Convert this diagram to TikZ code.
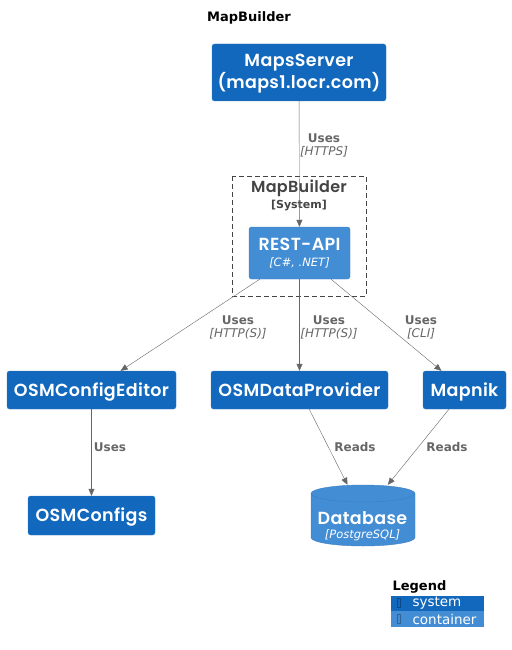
\documentclass[tikz,border=0pt]{standalone}
\usepackage{fontspec}
\setmainfont{DejaVu Sans}
\newfontfamily\boxfont{Poppins}[BoldFont={Poppins SemiBold}, LetterSpace=2]
\usetikzlibrary{arrows.meta}
\definecolor{sysblue}{HTML}{1168BD}
\definecolor{contblue}{HTML}{438DD5}
\definecolor{edgeblue}{HTML}{3C7FC0}
\definecolor{relgray}{HTML}{666666}
\definecolor{bndgray}{HTML}{444444}
\newcommand\techfont{\normalfont\itshape\fontsize{11.5}{13}\selectfont}
\tikzset{
  sysbox/.style={draw=edgeblue, fill=sysblue, rounded corners=2.5pt, text=white,
    font=\boxfont\bfseries\fontsize{17.5}{19}\selectfont, align=center, inner sep=0pt,
    text height=12.2pt, text depth=0pt},
  contbox/.style={sysbox, fill=contblue},
  rel/.style={draw=relgray, -{Triangle[length=7pt,width=6pt]}},
  lbl/.style={text=relgray, align=center, font=\fontsize{12}{13}\selectfont}
}
\begin{document}
\begin{tikzpicture}[x=1pt, y=-1pt]
  \useasboundingbox (0,0) rectangle (511,650);
  \node[font=\bfseries\fontsize{13}{15}\selectfont] (title) at (249,18) {MapBuilder};

  % external system
  \node[sysbox, minimum width=174pt, minimum height=57pt, text height=31.2pt] (maps) at (299,72.5)
    {MapsServer\\(maps1.locr.com)};

  % boundary
  \draw[bndgray, dash pattern=on 5pt off 3pt] (232,176) rectangle (366,296);
  \node[text=bndgray, align=center, font=\boxfont\bfseries\fontsize{16}{16}\selectfont] (bnd) at (299,195)
    {MapBuilder\\[0pt]{\normalfont\bfseries\fontsize{11}{13}\selectfont [System]}};
  \node[contbox, minimum width=101pt, minimum height=52pt, text height=26.3pt] (api) at (299.5,253)
    {REST-API\\[-3pt]{\techfont [C\#, .NET]}};

  % containers
  \node[sysbox, minimum width=169pt, minimum height=38pt] (editor) at (91.5,390) {OSMConfigEditor};
  \node[sysbox, minimum width=177pt, minimum height=38pt] (provider) at (299.5,390) {OSMDataProvider};
  \node[sysbox, minimum width=83pt, minimum height=38pt] (mapnik) at (464.5,390) {Mapnik};
  \node[sysbox, minimum width=127pt, minimum height=39pt] (configs) at (91.5,515.5) {OSMConfigs};

  % database
  \node[inner sep=0pt, minimum width=104pt, minimum height=61pt] (db) at (363,515.5) {};
  \filldraw[fill=contblue, draw=edgeblue] (311,493.5) arc[start angle=180, end angle=360, x radius=52, y radius=8.5]
    -- (415,537.5) arc[start angle=0, end angle=180, x radius=52, y radius=8.5] -- cycle;
  \draw[edgeblue] (311,493.5) arc[start angle=180, end angle=0, x radius=52, y radius=8.5];
  \node[text=white, align=center, font=\boxfont\bfseries\fontsize{17.5}{17}\selectfont] (dbtext) at (362.5,526)
    {Database\\[-3pt]{\techfont [PostgreSQL]}};

  % relations
  \draw[rel] (maps) -- (api) node[lbl] at (324,145) {\textbf{Uses}\\\textit{[HTTPS]}};
  \draw[rel] (api) -- (editor) node[lbl] at (238,327) {\textbf{Uses}\\\textit{[HTTP(S)]}};
  \draw[rel] (api) -- (provider) node[lbl] at (329,327) {\textbf{Uses}\\\textit{[HTTP(S)]}};
  \draw[rel] (api) -- (mapnik) node[lbl] at (421,327) {\textbf{Uses}\\\textit{[CLI]}};
  \draw[rel] (editor) -- (configs) node[lbl] at (110,447) {\textbf{Uses}};
  \draw[rel] (provider) -- (db) node[lbl] at (355,447) {\textbf{Reads}};
  \draw[rel] (mapnik) -- (db) node[lbl] at (447,447) {\textbf{Reads}};

  % legend
  \node[anchor=west, font=\bfseries\fontsize{13}{15}\selectfont] (legend) at (389,587) {Legend};
  \fill[sysblue] (391,596) rectangle (484,611);
  \fill[contblue] (391,611) rectangle (484,627);
  \draw[sysblue!70!black, line width=0.6pt] (397.5,598.5) rectangle (400.5,607.5);
  \draw[contblue!70!black, line width=0.6pt] (397.5,614.5) rectangle (400.5,623.5);
  \node[anchor=west, text=white, font=\fontsize{13.5}{15}\selectfont] (lsys) at (409,603.5) {system};
  \node[anchor=west, text=white, font=\fontsize{13.5}{15}\selectfont] (lcont) at (409,619) {container};
\end{tikzpicture}
\end{document}
